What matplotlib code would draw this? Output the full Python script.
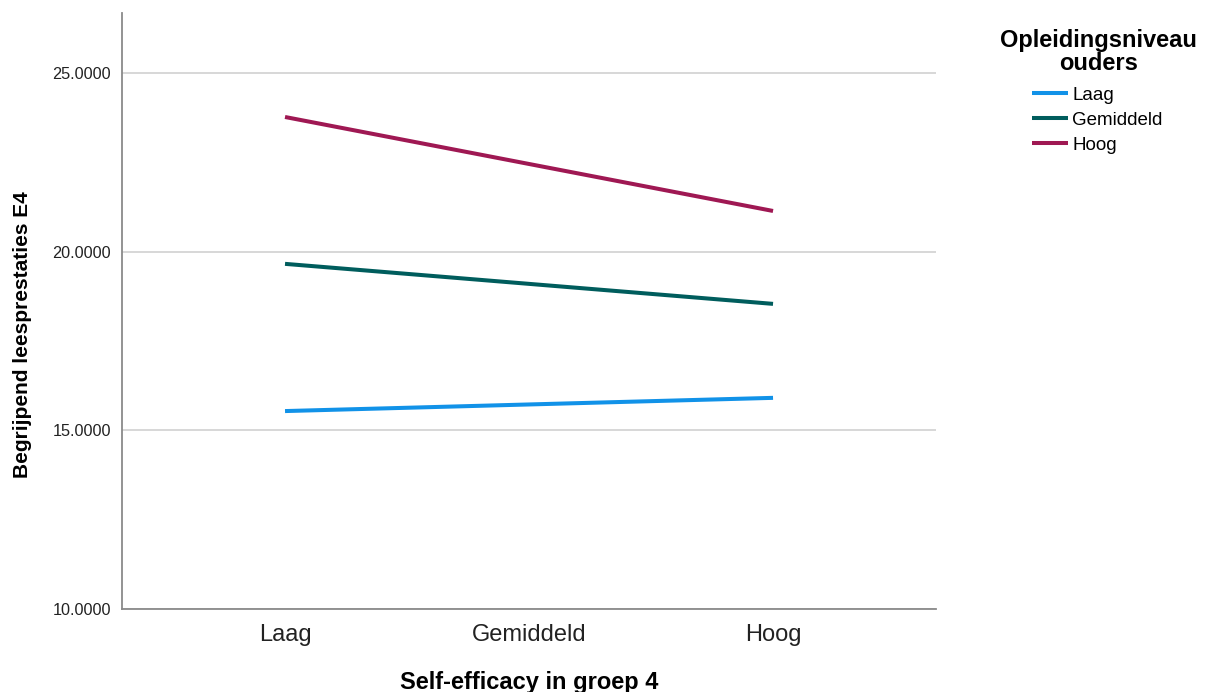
import numpy as np
import matplotlib.pyplot as plt

plt.rcParams['font.family'] = ['Liberation Sans', 'DejaVu Sans']

# categories on the x axis and the levels of the grouping variable
categories = ['Laag', 'Gemiddeld', 'Hoog']
plotted_cats = ['Laag', 'Hoog']
groups = ['Laag', 'Gemiddeld', 'Hoog']

# estimated means (Laag, Hoog)
laag = [15.54, 15.91]
gemiddeld = [19.66, 18.54]
hoog = [23.77, 21.14]

colors = ['#1192e8', '#005d5d', '#9f1853']

fig = plt.figure(figsize=(12.07, 6.92), dpi=100)
ax = fig.add_axes([0.1011, 0.1199, 0.6744, 0.8613])

xpos = [categories.index(c) for c in plotted_cats]
for name, vals, col in zip(groups, [laag, gemiddeld, hoog], colors):
    ax.plot(xpos, vals, color=col, lw=2.9, label=name, solid_capstyle='butt')

ax.set_xlim(-0.668, 2.668)
ax.set_ylim(10, 26.68)
ax.set_xticks(range(len(categories)))
ax.set_xticklabels(categories, fontsize=17, color='#222222')
ax.set_yticks([10, 15, 20, 25])
ax.set_yticklabels(['%.4f' % v for v in [10, 15, 20, 25]], fontsize=11.7, color='#222222')
ax.tick_params(axis='both', length=0)
ax.tick_params(axis='x', pad=11)
ax.tick_params(axis='y', pad=8)

ax.grid(axis='y', color='#d4d4d4', lw=1.3)
ax.set_axisbelow(True)
for s in ['top', 'right']:
    ax.spines[s].set_visible(False)
for s in ['left', 'bottom']:
    ax.spines[s].set_color('#8a8a8a')
    ax.spines[s].set_linewidth(1.3)

ax.set_xlabel('Self-efficacy in groep 4', fontsize=17, fontweight='bold')
ax.xaxis.set_label_coords(0.5, -0.104)
ax.set_ylabel('Begrijpend leesprestaties E4', fontsize=15, fontweight='bold')
ax.yaxis.set_label_coords(-0.110, 0.46)

# legend title drawn separately so the gap to the entries can be set
fig.text(0.910, 0.958, 'Opleidingsniveau\nouders', ha='center', va='top',
         fontsize=17, fontweight='bold', linespacing=0.98)
leg = fig.legend(loc='upper left', bbox_to_anchor=(0.855, 0.875), frameon=False,
                 fontsize=13.5, handlelength=1.9, handletextpad=0.25,
                 labelspacing=0.42, borderaxespad=0, borderpad=0)

fig.savefig('out.png', dpi=100)
